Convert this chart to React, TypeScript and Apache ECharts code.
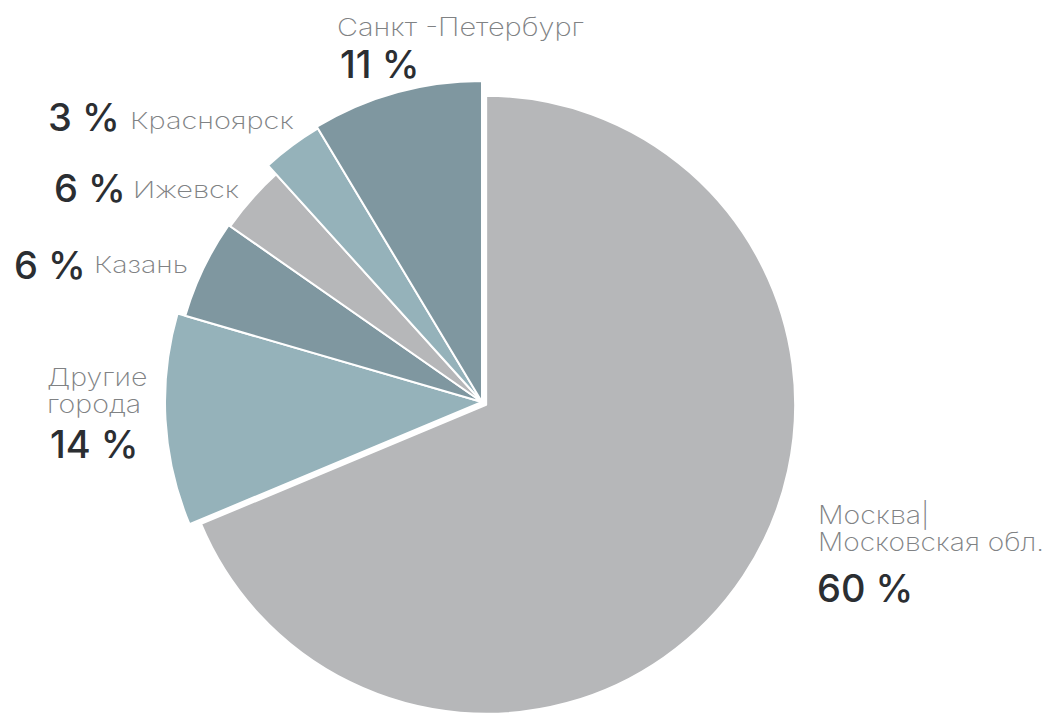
import React, { useEffect, useRef } from "react";
import * as echarts from "echarts";

// Slice order: clockwise from 12 o'clock
const cityNames = ["Москва|", "Другие", "Казань", "Ижевск", "Красноярск", "Санкт -Петербург"];
const citySubNames = ["Московская обл.", "города", "", "", "", ""];
// Shares as drawn in the picture (angle of each slice, % of full circle)
const sliceShares = [68.7, 10.8, 5.2, 3.6, 3.1, 8.6];
// Percentages printed in the labels
const labelPercents = [60, 14, 6, 6, 3, 11];

const sliceColors = ["#b6b7b9", "#95b2ba", "#7f97a0", "#b6b7b9", "#95b2ba", "#7f97a0"];
const sliceRadii = [309, 317, 309, 307, 319, 321];
const CENTER = [482, 402];
const MOSCOW_OFFSET = 5;

const NAME_FONT = "Inter, 'Noto Sans', sans-serif";
const NAME_COLOR = "#808284";
const PCT_COLOR = "#2b2e32";

export default function App() {
  const ref = useRef<HTMLDivElement>(null);
  useEffect(() => {
    if (!ref.current) return;
    const chart = echarts.init(ref.current, undefined, { renderer: "svg" });
    const total = sliceShares.reduce((a, b) => a + b, 0);

    const series = sliceShares.map((_, i) => {
      let center = CENTER;
      if (i === 0) {
        const mid = (sliceShares[0] / total) * Math.PI;
        center = [CENTER[0] + MOSCOW_OFFSET * Math.sin(mid), CENTER[1] - MOSCOW_OFFSET * Math.cos(mid)];
      }
      return {
        type: "pie",
        center,
        radius: [0, sliceRadii[i]],
        startAngle: 90,
        clockwise: true,
        silent: true,
        animation: false,
        label: { show: false },
        labelLine: { show: false },
        emphasis: { disabled: true },
        data: sliceShares.map((v, j) => ({
          value: v,
          name: cityNames[j],
          itemStyle:
            j === i
              ? { color: sliceColors[i], borderColor: "#ffffff", borderWidth: 2 }
              : { color: "rgba(0,0,0,0)", borderWidth: 0 },
        })),
      };
    });

    const nameText = (text: string, x: number, y: number, size: number, sx: number) => ({
      type: "text",
      x,
      y,
      scaleX: sx,
      style: {
        text,
        fill: NAME_COLOR,
        fontFamily: NAME_FONT,
        fontSize: size,
        fontWeight: 200,
        align: "left",
        verticalAlign: "middle",
      },
    });
    const pctText = (val: number, x: number, y: number) => ({
      type: "text",
      x,
      y,
      style: {
        text: `${val} %`,
        fill: PCT_COLOR,
        fontFamily: NAME_FONT,
        fontSize: 38,
        fontWeight: 500,
        align: "left",
        verticalAlign: "middle",
      },
    });

    const graphic = [
      // Санкт-Петербург
      nameText(cityNames[5], 337, 27, 25, 1.16),
      pctText(labelPercents[5], 340, 64),
      // Красноярск
      pctText(labelPercents[4], 48, 117),
      nameText(cityNames[4], 130, 121, 23, 1.26),
      // Ижевск
      pctText(labelPercents[3], 54, 188),
      nameText(cityNames[3], 133, 190, 23, 1.26),
      // Казань
      pctText(labelPercents[2], 14, 265),
      nameText(cityNames[2], 94, 265, 23, 1.24),
      // Другие города
      nameText(cityNames[1], 47, 377, 24, 1.19),
      nameText(citySubNames[1], 47, 404, 24, 1.19),
      pctText(labelPercents[1], 50, 444),
      // Москва
      nameText(cityNames[0], 818, 515, 25, 1.14),
      nameText(citySubNames[0], 818, 542, 25, 1.125),
      pctText(labelPercents[0], 817, 588),
    ];

    chart.setOption({
      animation: false,
      backgroundColor: "#ffffff",
      series,
      graphic,
    });
    return () => chart.dispose();
  }, []);
  return <div ref={ref} style={{ position: "fixed", left: 0, top: 0, width: 1050, height: 720 }} />;
}
